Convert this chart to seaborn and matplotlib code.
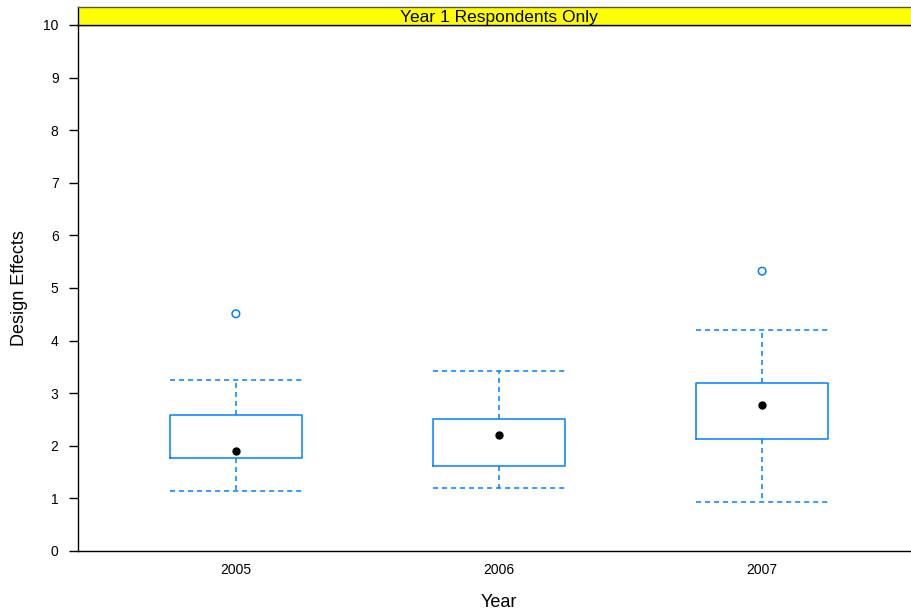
import matplotlib
matplotlib.use("Agg")
import matplotlib.pyplot as plt
import seaborn as sns
import pandas as pd

# Design-effect summaries by survey year
years = ["2005", "2006", "2007"]
whisker_low = [1.14, 1.19, 0.93]
quartile_1 = [1.77, 1.61, 2.12]
medians = [1.90, 2.20, 2.77]
quartile_3 = [2.58, 2.51, 3.19]
whisker_high = [3.26, 3.42, 4.20]
outlier_year = ["2005", "2007"]
outlier_value = [4.51, 5.32]

y_ticks = list(range(0, 11))
strip_title = "Year 1 Respondents Only"

sns.set_theme(style="white")
plt.rcParams["font.family"] = ["Liberation Sans", "DejaVu Sans"]
plt.rcParams["text.color"] = "black"
plt.rcParams["axes.labelcolor"] = "black"
plt.rcParams["xtick.color"] = "black"
plt.rcParams["ytick.color"] = "black"

BLUE = "#0080ff"
W, H = 912, 614
fig = plt.figure(figsize=(W / 100, H / 100), dpi=100)

x0, x1 = 78, 920
y_bot, y_top, strip_top = 551, 25, 7
ax = fig.add_axes([x0 / W, (H - y_bot) / H, (x1 - x0) / W, (y_bot - y_top) / H])
sax = fig.add_axes([x0 / W, (H - y_top) / H, (x1 - x0) / W, (y_top - strip_top) / H])

pos = {yr: i for i, yr in enumerate(years)}
stats = [
    dict(label=yr, whislo=lo, q1=a, med=m, q3=b, whishi=hi, fliers=[])
    for yr, lo, a, m, b, hi in zip(years, whisker_low, quartile_1, medians,
                                   quartile_3, whisker_high)
]
dash = (0, (3.3, 2.6))
ax.bxp(stats, positions=[pos[y] for y in years], widths=0.5, showfliers=False,
       boxprops=dict(color=BLUE, linewidth=1.1),
       whiskerprops=dict(color=BLUE, linewidth=1.1, linestyle=dash),
       capprops=dict(color=BLUE, linewidth=1.1, linestyle=dash),
       capwidths=0.5,
       medianprops=dict(linewidth=0))

med_df = pd.DataFrame({"x": [pos[y] for y in years], "y": medians})
sns.scatterplot(data=med_df, x="x", y="y", color="black", s=36,
                edgecolor="black", linewidth=0, ax=ax, zorder=5)

out_df = pd.DataFrame({"x": [pos[y] for y in outlier_year], "y": outlier_value})
sns.scatterplot(data=out_df, x="x", y="y", facecolor="none", edgecolor=BLUE,
                s=30, linewidth=1.1, ax=ax, zorder=5)

ax.set_xlim(-0.6, len(years) - 0.4)
ax.set_ylim(0, 10)
ax.set_xticks(range(len(years)))
ax.set_xticklabels(years)
ax.set_yticks(y_ticks)
ax.tick_params(axis="y", length=6.5, width=1, color="black", pad=7.5,
               labelsize=10, left=True, labelcolor="black")
ax.tick_params(axis="x", length=0, pad=9, labelsize=10, labelcolor="black")
for s in ["left", "bottom", "top"]:
    ax.spines[s].set_color("black")
    ax.spines[s].set_linewidth(1)
ax.spines["right"].set_visible(False)
ax.set_xlabel("Year", fontsize=13, labelpad=12, color="black")
ax.set_ylabel("Design Effects", fontsize=13, labelpad=11, color="black")
ax.set_facecolor("white")

sax.set_facecolor("#ffff00")
sax.set_xticks([])
sax.set_yticks([])
for s in sax.spines.values():
    s.set_linewidth(1)
sax.spines["top"].set_color("#555555")
sax.spines["left"].set_color("black")
sax.spines["bottom"].set_color("black")
sax.spines["right"].set_visible(False)
sax.text(0.5, 0.42, strip_title, transform=sax.transAxes, ha="center",
         va="center", fontsize=12.5, color="black")

fig.savefig("out.png", dpi=100, facecolor="white")
